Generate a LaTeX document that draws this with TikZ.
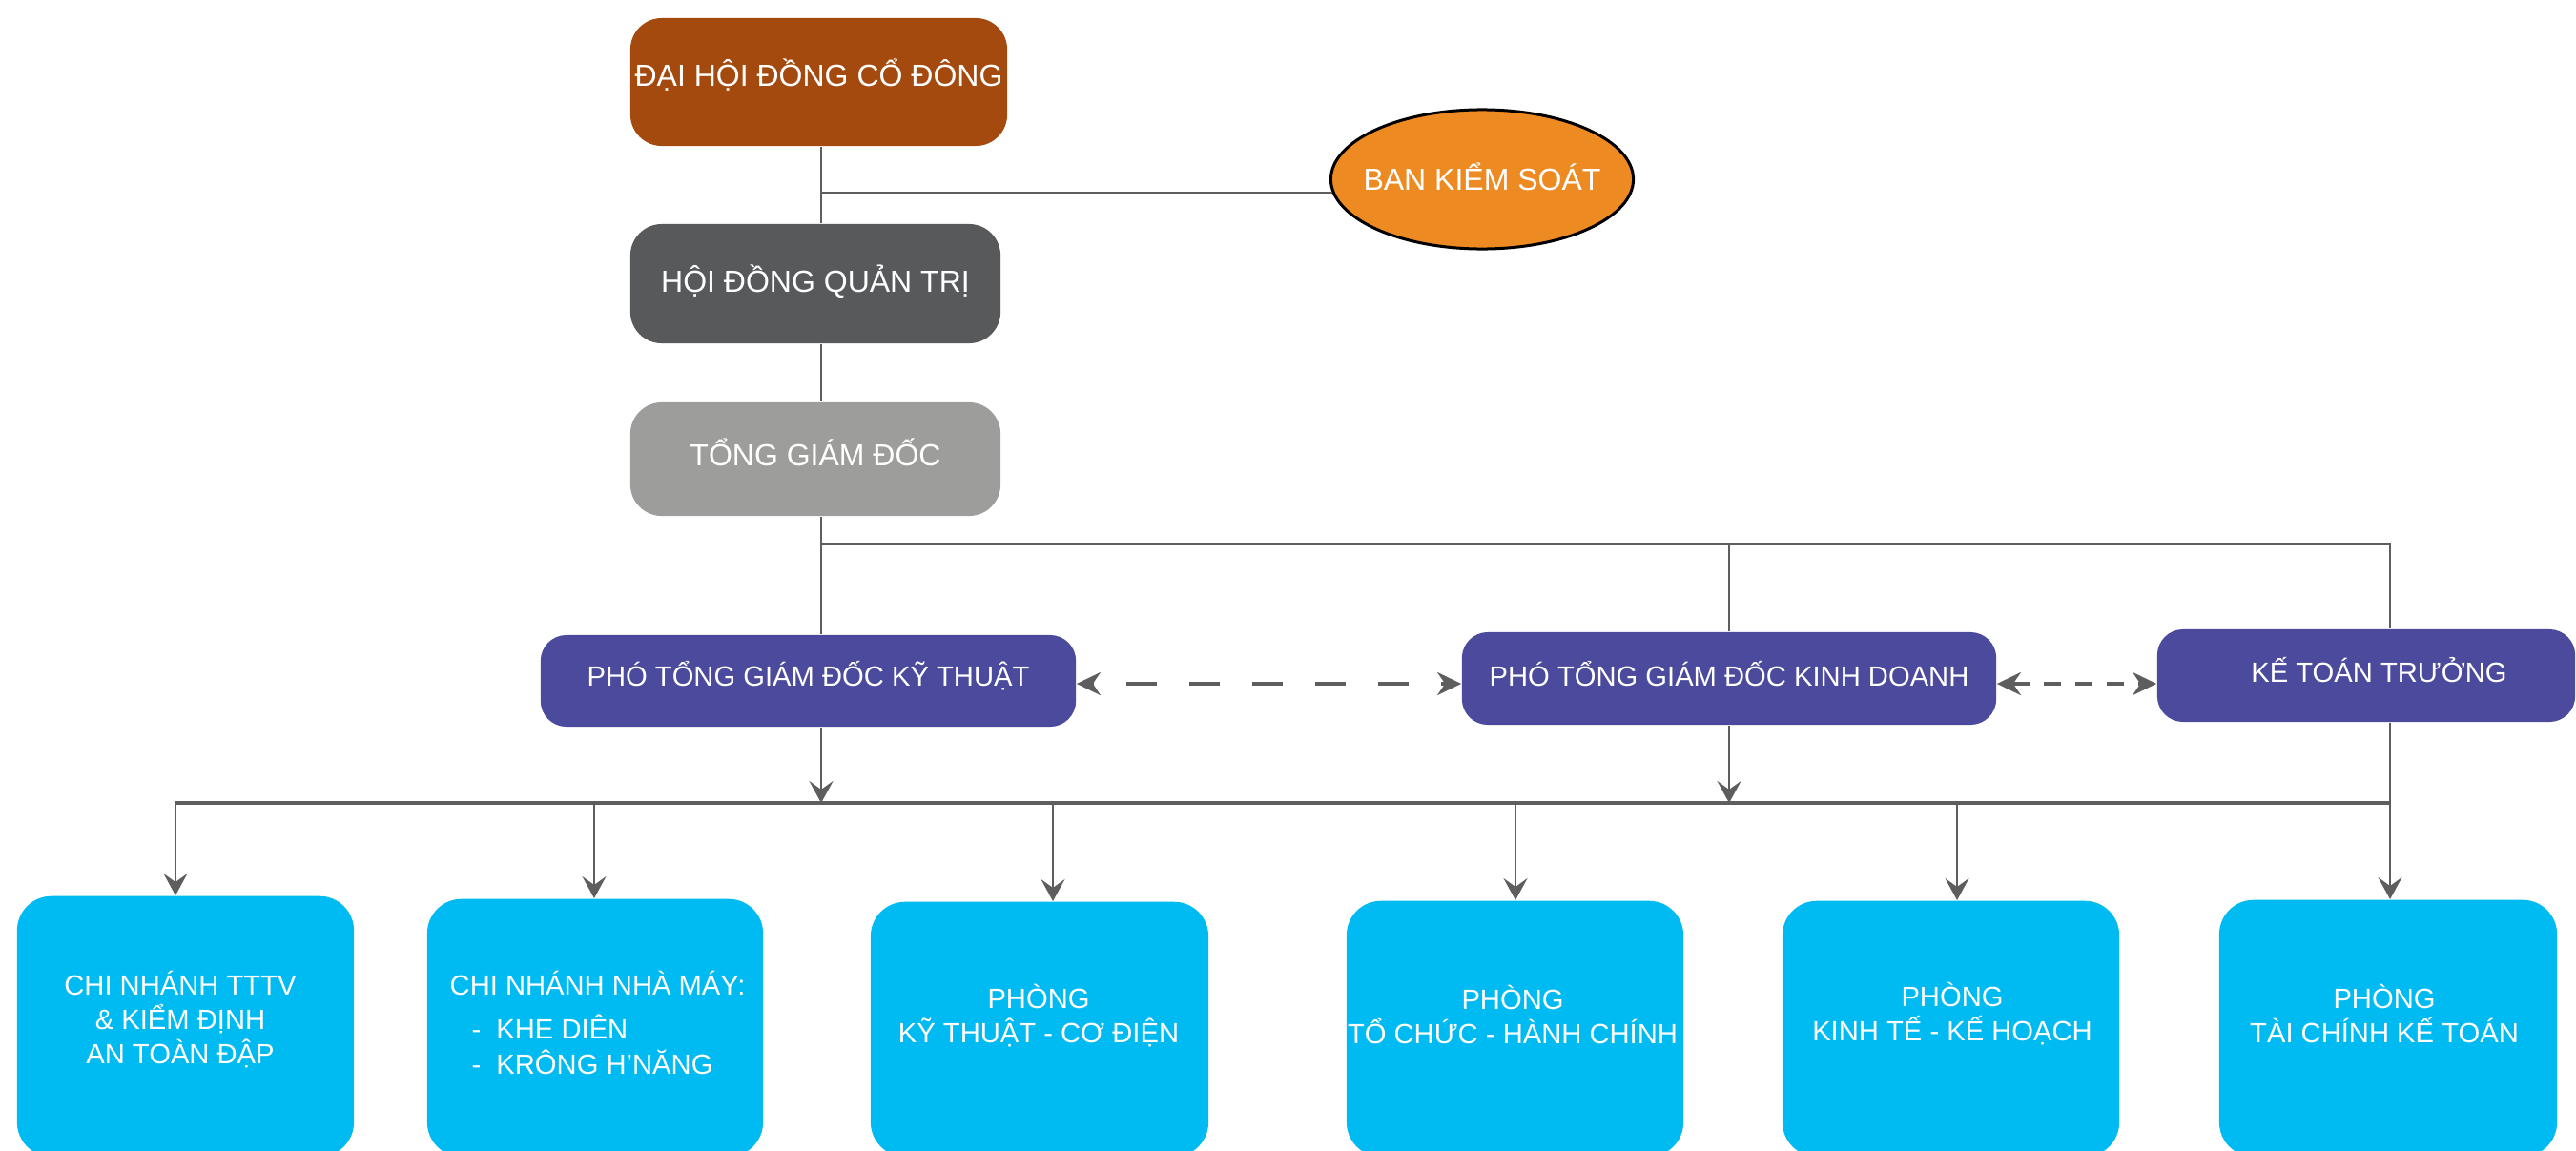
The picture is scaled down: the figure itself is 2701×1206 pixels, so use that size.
\documentclass[tikz,border=0pt]{standalone}
\usepackage{fontspec}
\setmainfont{Liberation Sans}
\usetikzlibrary{arrows.meta,shapes.geometric}
\definecolor{cDH}{HTML}{A54A0E}
\definecolor{cHQ}{HTML}{58595B}
\definecolor{cTG}{HTML}{9D9D9C}
\definecolor{cBKS}{HTML}{EE8A22}
\definecolor{cP}{HTML}{4B4A9C}
\definecolor{cC}{HTML}{00BAF2}
\definecolor{cL}{HTML}{5E5E5E}
\newcommand\mlc[1]{\vtop{\baselineskip=10.3pt\lineskiplimit=-\maxdimen\lineskip=0pt\halign{\hfil##\hfil\cr#1\crcr}}}
\newcommand\mll[1]{\vtop{\baselineskip=10.3pt\lineskiplimit=-\maxdimen\lineskip=0pt\halign{##\hfil\cr#1\crcr}}}
\begin{document}
\begin{tikzpicture}[x=0.01cm,y=-0.01cm,
  topbox/.style={rectangle, rounded corners=0.33cm, text=white, inner sep=0pt,
    font=\fontsize{9.1}{10.5}\selectfont, text height=0.229cm},
  pbox/.style={rectangle, rounded corners=0.27cm, fill=cP, text=white, inner sep=0pt,
    font=\fontsize{8.3}{10}\selectfont, text height=0.209cm},
  cbox/.style={rectangle, rounded corners=0.36cm, fill=cC, inner sep=0pt, anchor=north},
  ctext/.style={text=white, inner sep=0pt, font=\fontsize{8.3}{10.3}\selectfont},
  conn/.style={draw=cL, line width=0.025cm},
  arr/.style={conn, -{Stealth[length=0.23cm,width=0.25cm,inset=0.09cm]}},
  darr/.style={draw=cL, line width=0.035cm, {Stealth[length=0.25cm,width=0.24cm,inset=0.08cm]}-{Stealth[length=0.25cm,width=0.24cm,inset=0.08cm]}}
]
\useasboundingbox (0,0) rectangle (2701,1206);
\clip (0,0) rectangle (2701,1206);

% top nodes
\node[topbox, fill=cDH, minimum width=3.95cm, minimum height=1.34cm, text depth=0.13cm] (DH) at (858.5,86) {ĐẠI HỘI ĐỒNG CỔ ĐÔNG};
\node[topbox, fill=cHQ, minimum width=3.88cm, minimum height=1.25cm, text depth=0.04cm] (HQ) at (855,297.5) {HỘI ĐỒNG QUẢN TRỊ};
\node[topbox, fill=cTG, minimum width=3.88cm, minimum height=1.19cm, text depth=0.08cm] (TG) at (855,481.5) {TỔNG GIÁM ĐỐC};
\node[ellipse, fill=cBKS, draw=black, line width=0.03cm, minimum width=3.17cm, minimum height=1.46cm, inner sep=0pt,
  label={[text=white, inner sep=0pt, font=\fontsize{9.1}{10.5}\selectfont, text height=0.229cm, text depth=0cm]center:BAN KIỂM SOÁT}] (BKS) at (1554,188) {};

% deputy level
\node[pbox, minimum width=5.61cm, minimum height=0.96cm, text depth=0.10cm] (PTKT) at (847.5,714) {PHÓ TỔNG GIÁM ĐỐC KỸ THUẬT};
\node[pbox, minimum width=5.60cm, minimum height=0.97cm, text depth=0.04cm] (PTKD) at (1813,711.5) {PHÓ TỔNG GIÁM ĐỐC KINH DOANH};
\node[pbox, minimum width=4.38cm, minimum height=0.97cm, text depth=0.06cm] (KTT) at (2481,708.5) {\hspace{0.27cm}KẾ TOÁN TRƯỞNG};

% bottom boxes
\node[cbox, minimum width=3.53cm, minimum height=2.73cm] (B1) at (194.5,939) {};
\node[cbox, minimum width=3.52cm, minimum height=2.70cm] (B2) at (624,942) {};
\node[cbox, minimum width=3.54cm, minimum height=2.67cm] (B3) at (1090,945) {};
\node[cbox, minimum width=3.53cm, minimum height=2.68cm] (B4) at (1588.5,944) {};
\node[cbox, minimum width=3.53cm, minimum height=2.68cm] (B5) at (2045.5,944) {};
\node[cbox, minimum width=3.54cm, minimum height=2.69cm] (B6) at (2504,943) {};

\node[ctext, anchor=base] (T1) at (189,1043) {\mlc{CHI NHÁNH TTTV\cr \& KIỂM ĐỊNH\cr AN TOÀN ĐẬP}};
\node[ctext, anchor=base west] (T2) at (471,1043) {\mll{CHI NHÁNH NHÀ MÁY:\cr\noalign{\vskip3pt}\hskip0.23cm-\hskip0.16cm KHE DIÊN\cr\hskip0.23cm-\hskip0.16cm KRÔNG H’NĂNG}};
\node[ctext, anchor=base] (T3) at (1089,1057) {\mlc{PHÒNG\cr KỸ THUẬT - CƠ ĐIỆN}};
\node[ctext, anchor=base] (T4) at (1586,1058) {\mlc{PHÒNG\cr TỔ CHỨC - HÀNH CHÍNH}};
\node[ctext, anchor=base] (T5) at (2047,1055) {\mlc{PHÒNG\cr KINH TẾ - KẾ HOẠCH}};
\node[ctext, anchor=base] (T6) at (2500,1057) {\mlc{PHÒNG\cr TÀI CHÍNH KẾ TOÁN}};

% helper coordinates
\coordinate (sp) at (861,0);
\coordinate (kx) at (2506,0);
\coordinate (hy) at (0,570);
\coordinate (bus) at (0,842);
\coordinate (dy) at (0,717);
\coordinate (d1) at (184,0);
\coordinate (d2) at (623,0);
\coordinate (d3) at (1104,0);
\coordinate (d4) at (1589,0);
\coordinate (d5) at (2052,0);
\coordinate (d6) at (2506,0);

% connectors
\draw[conn] (sp |- DH.south) -- (sp |- HQ.north);
\draw[conn] (sp |- BKS.185) -- (BKS.185);
\draw[conn] (sp |- HQ.south) -- (sp |- TG.north);
\draw[conn] (sp |- TG.south) -- (sp |- PTKT.north);
\draw[conn] (sp |- hy) -| (PTKD.north);
\draw[conn] (PTKD.north |- hy) -| (kx |- KTT.north);

\draw[darr, dash pattern=on 0.32cm off 0.34cm, dash phase=0.30cm] (PTKT.east |- dy) -- (PTKD.west |- dy);
\draw[darr, dash pattern=on 0.18cm off 0.15cm] (PTKD.east |- dy) -- (KTT.west |- dy);

\draw[arr] (sp |- PTKT.south) -- (sp |- bus);
\draw[arr] (PTKD.south) -- (PTKD.south |- bus);
\draw[conn] (kx |- KTT.south) -- (kx |- bus);
\draw[draw=cL, line width=0.035cm] (d1 |- bus) -- (d6 |- bus);

\draw[arr] (d1 |- bus) -- (d1 |- B1.north);
\draw[arr] (d2 |- bus) -- (d2 |- B2.north);
\draw[arr] (d3 |- bus) -- (d3 |- B3.north);
\draw[arr] (d4 |- bus) -- (d4 |- B4.north);
\draw[arr] (d5 |- bus) -- (d5 |- B5.north);
\draw[arr] (d6 |- bus) -- (d6 |- B6.north);
\end{tikzpicture}
\end{document}
